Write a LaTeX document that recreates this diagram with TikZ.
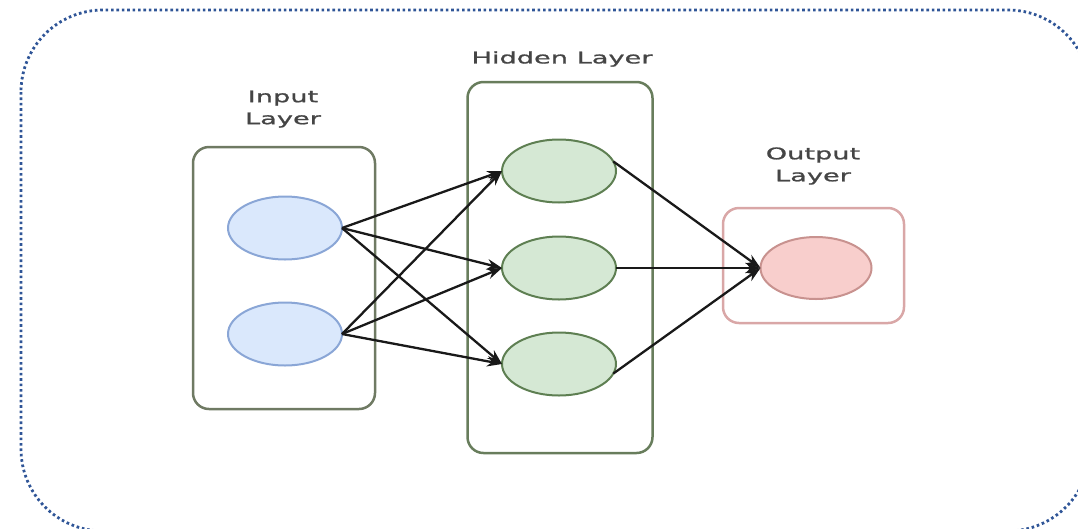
\documentclass[tikz,border=0pt]{standalone}
\usepackage{fontspec}
\newfontfamily\lblfont[FakeStretch=1.7,FakeBold=1.2]{DejaVu Sans}
\usetikzlibrary{shapes.geometric,arrows.meta}

\definecolor{framecol}{HTML}{2F5597}
\definecolor{txtcol}{HTML}{454545}
\definecolor{inbox}{HTML}{6F7A63}
\definecolor{hidbox}{HTML}{687D5C}
\definecolor{outbox}{HTML}{D9A7A7}
\definecolor{infill}{HTML}{DAE8FC}
\definecolor{indraw}{HTML}{8AA6D6}
\definecolor{hidfill}{HTML}{D5E8D4}
\definecolor{hiddraw}{HTML}{5E7F52}
\definecolor{outfill}{HTML}{F8CECC}
\definecolor{outdraw}{HTML}{C8928F}

\begin{document}
\begin{tikzpicture}[x=1pt,y=-1pt,
  layerbox/.style={draw, rectangle, rounded corners=16pt, line width=2.5pt, inner sep=0pt, outer sep=0pt},
  neuron/.style={draw, ellipse, line width=2pt, inner sep=0pt, outer sep=0pt,
    minimum width=114pt, minimum height=63pt},
  label/.style={font=\lblfont\fontsize{16}{22}\selectfont, text=txtcol, align=center, inner sep=0pt},
  link/.style={draw=black!90, line width=2.3pt, -{Stealth[length=15pt,width=10.5pt]}}]
  \useasboundingbox (0,0) rectangle (1078,528);

  % dotted outer frame
  \draw[framecol, line width=2.8pt, dash pattern=on 2.6pt off 2.8pt, rounded corners=82pt]
    (21,10) rectangle (1090,531);

  % layer containers
  \node[layerbox, draw=inbox, minimum width=182pt, minimum height=262pt] (inL) at (284,278) {};
  \node[layerbox, draw=hidbox, minimum width=185pt, minimum height=371pt] (hidL) at (560,267.5) {};
  \node[layerbox, draw=outbox, minimum width=181pt, minimum height=115pt] (outL) at (813.5,265.5) {};

  % layer titles
  \node[label] (tin) at (283,109) {Input\\Layer};
  \node[label] (thid) at (562,59) {Hidden Layer};
  \node[label] (tout) at (813,166) {Output\\Layer};

  % neurons
  \node[neuron, fill=infill, draw=indraw] (i1) at (285,228) {};
  \node[neuron, fill=infill, draw=indraw] (i2) at (285,334) {};
  \node[neuron, fill=hidfill, draw=hiddraw] (h1) at (559,171) {};
  \node[neuron, fill=hidfill, draw=hiddraw] (h2) at (559,268) {};
  \node[neuron, fill=hidfill, draw=hiddraw] (h3) at (559,364) {};
  \node[neuron, fill=outfill, draw=outdraw, minimum width=111pt, minimum height=62pt] (o1) at (816,268) {};

  % input -> hidden
  \foreach \s in {i1,i2}{
    \foreach \t in {h1,h2,h3}{
      \draw[link] (\s.east) -- (\t.west);
    }
  }
  % hidden -> output
  \draw[link] (h1.10) -- (o1.west);
  \draw[link] (h2.east) -- (o1.west);
  \draw[link] (h3.-10) -- (o1.west);
\end{tikzpicture}
\end{document}
